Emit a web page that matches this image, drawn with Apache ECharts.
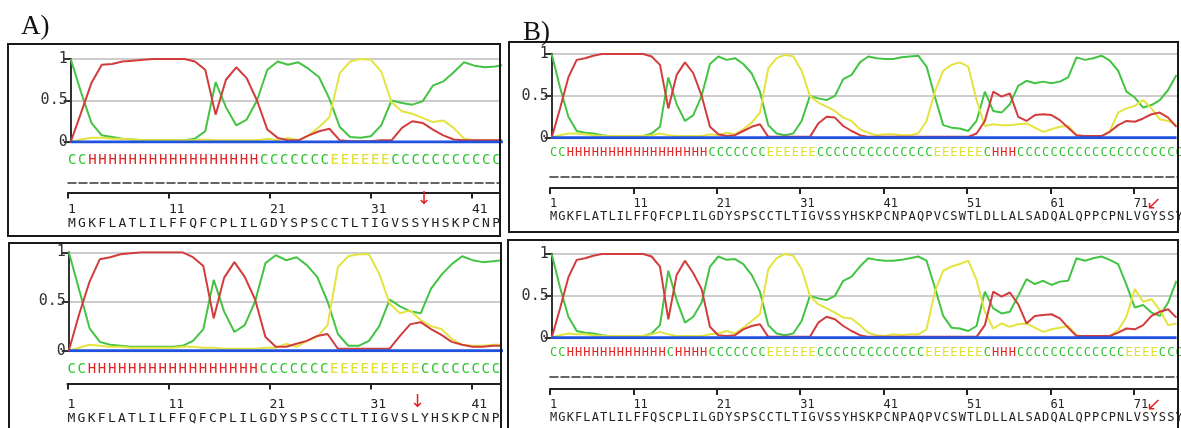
<!DOCTYPE html>
<html>
<head>
<meta charset="utf-8">
<script src="https://cdn.jsdelivr.net/npm/echarts@6/dist/echarts.min.js"></script>
<style>
  html, body { margin: 0; padding: 0; background: #fff; }
  #chart { width: 1181px; height: 428px; }
</style>
</head>
<body>
<div id="chart"></div>
<script>
// secondary structure prediction, wild type (top) vs mutant (bottom)
const seqA1 = 'MGKFLATLILFFQFCPLILGDYSPSCCTLTIGVSSYHSKPCNP'
const seqA2 = 'MGKFLATLILFFQFCPLILGDYSPSCCTLTIGVSLYHSKPCNP'
const seqB1 = 'MGKFLATLILFFQFCPLILGDYSPSCCTLTIGVSSYHSKPCNPAQPVCSWTLDLLALSADQALQPPCPNLVGYSSYHSK'
const seqB2 = 'MGKFLATLILFFQSCPLILGDYSPSCCTLTIGVSSYHSKPCNPAQPVCSWTLDLLALSADQALQPPCPNLVSYSSYHSK'

const ssA1 = 'CCHHHHHHHHHHHHHHHHHCCCCCCCEEEEEECCCCCCCCCCC'
const ssA2 = 'CCHHHHHHHHHHHHHHHHHCCCCCCCEEEEEEEEECCCCCCCC'
const ssB1 = 'CCHHHHHHHHHHHHHHHHHCCCCCCCEEEEEECCCCCCCCCCCCCCEEEEEECHHHCCCCCCCCCCCCCCCCCCCC'
const ssB2 = 'CCHHHHHHHHHHHHCHHHHCCCCCCCEEEEEECCCCCCCCCCCCCEEEEEEECHHHCCCCCCCCCCCCCEEEECCC'

const mutA = 35
const mutB = 72
const tickStep = 10

// probabilities per residue
const coilA1 = [1.0, 0.6, 0.23, 0.08, 0.06, 0.04, 0.03, 0.02, 0.02, 0.02, 0.02, 0.02, 0.04, 0.13, 0.72, 0.42, 0.2, 0.27, 0.5, 0.87, 0.97, 0.93, 0.96, 0.88, 0.78, 0.52, 0.18, 0.06, 0.05, 0.07, 0.2, 0.5, 0.47, 0.45, 0.49, 0.68, 0.73, 0.84, 0.96, 0.92, 0.9, 0.91, 0.93]
const helixA1 = [0, 0.35, 0.71, 0.93, 0.94, 0.97, 0.98, 0.99, 1, 1, 1, 1, 0.97, 0.87, 0.33, 0.75, 0.9, 0.77, 0.5, 0.15, 0.05, 0.02, 0.02, 0.08, 0.13, 0.16, 0.02, 0.01, 0.01, 0.01, 0.02, 0.02, 0.17, 0.25, 0.23, 0.15, 0.08, 0.03, 0.02, 0.02, 0.02, 0.02, 0.02]
const strandA1 = [0, 0.03, 0.05, 0.05, 0.04, 0.04, 0.03, 0.02, 0.02, 0.02, 0.02, 0.02, 0.02, 0.03, 0.02, 0.02, 0.02, 0.02, 0.02, 0.04, 0.02, 0.05, 0.02, 0.08, 0.18, 0.3, 0.83, 0.97, 1, 0.99, 0.85, 0.48, 0.37, 0.34, 0.29, 0.24, 0.26, 0.17, 0.04, 0.02, 0.02, 0.02, 0.02]

const coilA2 = [1, 0.62, 0.23, 0.09, 0.06, 0.05, 0.04, 0.04, 0.04, 0.04, 0.04, 0.05, 0.1, 0.22, 0.72, 0.4, 0.19, 0.26, 0.5, 0.89, 0.97, 0.92, 0.95, 0.87, 0.75, 0.5, 0.17, 0.05, 0.05, 0.1, 0.25, 0.52, 0.45, 0.4, 0.38, 0.63, 0.77, 0.88, 0.96, 0.92, 0.9, 0.91, 0.92]
const helixA2 = [0, 0.37, 0.7, 0.93, 0.95, 0.98, 0.99, 1, 1, 1, 1, 1, 0.95, 0.86, 0.33, 0.74, 0.9, 0.75, 0.52, 0.14, 0.04, 0.04, 0.07, 0.1, 0.15, 0.17, 0.02, 0.02, 0.02, 0.02, 0.02, 0.02, 0.15, 0.27, 0.29, 0.22, 0.16, 0.09, 0.06, 0.04, 0.04, 0.05, 0.05]
const strandA2 = [0, 0.03, 0.06, 0.05, 0.04, 0.04, 0.03, 0.03, 0.03, 0.03, 0.03, 0.04, 0.04, 0.03, 0.03, 0.02, 0.02, 0.02, 0.02, 0.03, 0.03, 0.07, 0.04, 0.1, 0.14, 0.26, 0.85, 0.96, 0.98, 0.98, 0.78, 0.48, 0.38, 0.41, 0.31, 0.25, 0.22, 0.12, 0.06, 0.05, 0.05, 0.06, 0.06]

const coilB1 = [1, 0.6, 0.25, 0.08, 0.06, 0.05, 0.03, 0.02, 0.02, 0.02, 0.02, 0.02, 0.05, 0.13, 0.72, 0.4, 0.2, 0.27, 0.5, 0.88, 0.97, 0.93, 0.95, 0.88, 0.77, 0.55, 0.15, 0.05, 0.03, 0.05, 0.2, 0.5, 0.47, 0.45, 0.5, 0.7,
  0.75, 0.9, 0.97, 0.95, 0.94, 0.94, 0.96, 0.97, 0.98, 0.85, 0.49, 0.15, 0.12, 0.11, 0.08, 0.2, 0.55, 0.32, 0.3, 0.4, 0.62, 0.68, 0.65, 0.67, 0.65, 0.67, 0.72, 0.96, 0.93, 0.95, 0.98, 0.92, 0.8, 0.55, 0.48, 0.36, 0.39, 0.45, 0.57, 0.75]
const helixB1 = [0, 0.35, 0.72, 0.93, 0.95, 0.98, 1, 1, 1, 1, 1, 1, 0.97, 0.87, 0.35, 0.75, 0.9, 0.77, 0.5, 0.13, 0.04, 0.02, 0.03, 0.08, 0.13, 0.16, 0.01, 0.01, 0.01, 0.01, 0.01, 0.01, 0.17, 0.25, 0.24, 0.14,
  0.08, 0.03, 0.01, 0.01, 0.01, 0.01, 0.01, 0.01, 0.01, 0.01, 0.01, 0.01, 0.01, 0.01, 0.01, 0.05, 0.2, 0.55, 0.49, 0.53, 0.25, 0.2, 0.27, 0.28, 0.27, 0.21, 0.12, 0.03, 0.02, 0.02, 0.02, 0.07, 0.15, 0.2, 0.19, 0.23, 0.28, 0.3, 0.24, 0.13]
const strandB1 = [0, 0.03, 0.05, 0.05, 0.04, 0.03, 0.02, 0.02, 0.02, 0.02, 0.02, 0.02, 0.03, 0.05, 0.03, 0.02, 0.02, 0.02, 0.02, 0.04, 0.03, 0.06, 0.04, 0.1, 0.18, 0.3, 0.83, 0.95, 0.99, 0.97, 0.8, 0.5, 0.42, 0.37, 0.32, 0.24,
  0.2, 0.1, 0.06, 0.03, 0.04, 0.04, 0.03, 0.03, 0.05, 0.2, 0.55, 0.8, 0.87, 0.9, 0.85, 0.45, 0.14, 0.16, 0.15, 0.15, 0.16, 0.17, 0.12, 0.07, 0.1, 0.13, 0.14, 0.03, 0.01, 0.01, 0.02, 0.08, 0.3, 0.35, 0.38, 0.45, 0.35, 0.22, 0.2, 0.15]

const coilB2 = [1, 0.6, 0.25, 0.08, 0.06, 0.05, 0.03, 0.02, 0.02, 0.02, 0.02, 0.02, 0.05, 0.15, 0.8, 0.45, 0.18, 0.25, 0.42, 0.85, 0.97, 0.93, 0.94, 0.88, 0.75, 0.55, 0.15, 0.05, 0.03, 0.05, 0.2, 0.5, 0.47, 0.45, 0.5, 0.68,
  0.73, 0.85, 0.95, 0.93, 0.92, 0.92, 0.93, 0.95, 0.97, 0.92, 0.6, 0.26, 0.12, 0.11, 0.08, 0.14, 0.55, 0.35, 0.29, 0.31, 0.5, 0.7, 0.64, 0.68, 0.63, 0.67, 0.68, 0.95, 0.92, 0.95, 0.97, 0.93, 0.88, 0.63, 0.36, 0.39, 0.3, 0.26, 0.42, 0.68]
const helixB2 = [0, 0.35, 0.72, 0.93, 0.95, 0.98, 1, 1, 1, 1, 1, 1, 0.97, 0.85, 0.22, 0.75, 0.92, 0.77, 0.58, 0.13, 0.03, 0.02, 0.03, 0.1, 0.14, 0.16, 0.01, 0.01, 0.01, 0.01, 0.01, 0.01, 0.18, 0.25, 0.22, 0.14,
  0.08, 0.03, 0.01, 0.01, 0.01, 0.01, 0.01, 0.01, 0.01, 0.01, 0.01, 0.01, 0.01, 0.01, 0.01, 0.01, 0.15, 0.55, 0.49, 0.54, 0.4, 0.17, 0.26, 0.27, 0.28, 0.23, 0.12, 0.02, 0.02, 0.02, 0.02, 0.02, 0.06, 0.11, 0.1, 0.15, 0.26, 0.31, 0.34, 0.24]
const strandB2 = [0, 0.03, 0.05, 0.04, 0.04, 0.03, 0.02, 0.02, 0.02, 0.02, 0.02, 0.02, 0.04, 0.07, 0.04, 0.02, 0.02, 0.02, 0.02, 0.04, 0.05, 0.08, 0.05, 0.12, 0.2, 0.28, 0.82, 0.95, 1, 0.98, 0.82, 0.5, 0.4, 0.35, 0.3, 0.24,
  0.23, 0.15, 0.06, 0.03, 0.02, 0.04, 0.03, 0.04, 0.04, 0.1, 0.55, 0.8, 0.85, 0.88, 0.92, 0.69, 0.31, 0.11, 0.17, 0.13, 0.16, 0.17, 0.12, 0.07, 0.1, 0.12, 0.14, 0.03, 0.01, 0.01, 0.02, 0.02, 0.09, 0.25, 0.58, 0.43, 0.46, 0.33, 0.15, 0.17]

// beta turn: flat at zero everywhere
const turn = [0, 0, 0, 0, 0, 0, 0, 0, 0, 0, 0, 0, 0, 0, 0, 0, 0, 0, 0, 0, 0, 0, 0, 0, 0, 0, 0, 0, 0, 0, 0, 0, 0, 0, 0, 0, 0, 0, 0, 0,
  0, 0, 0, 0, 0, 0, 0, 0, 0, 0, 0, 0, 0, 0, 0, 0, 0, 0, 0, 0, 0, 0, 0, 0, 0, 0, 0, 0, 0, 0, 0, 0, 0, 0, 0, 0]

const ssColor = { C: '#2ec42e', H: '#e02626', E: '#e0e030' }
const lineColor = { coil: '#43c443', helix: '#d23c3c', strand: '#e4e440', turn: '#1f52e0' }
const mono = 'DejaVu Sans Mono'

const panels = [
  {
    plot: { x0: 70.7, x1: 500, y1: 59, y0: 142, step: 10.35 },
    text: { x0: 68, x1: 500, step: 10.1, ssY: 160, dashY: 181.5, rulerY: 191.5, numY: 210, seqY: 223.5, arrowY: 199, ssFont: 14, seqFont: 13 },
    coil: coilA1, helix: helixA1, strand: strandA1, ss: ssA1, seq: seqA1, mut: mutA, arrow: '↓', arrowDx: 5
  },
  {
    plot: { x0: 68.8, x1: 500, y1: 252.3, y0: 350.7, step: 10.35 },
    text: { x0: 67.5, x1: 500, step: 10.1, ssY: 369, dashY: null, rulerY: 382.5, numY: 405, seqY: 419, arrowY: 402, ssFont: 14, seqFont: 13 },
    coil: coilA2, helix: helixA2, strand: strandA2, ss: ssA2, seq: seqA2, mut: mutA, arrow: '↓', arrowDx: -1
  },
  {
    plot: { x0: 551.7, x1: 1178, y1: 54, y0: 137.7, step: 8.33 },
    text: { x0: 550, x1: 1178, step: 8.34, ssY: 153, dashY: 176, rulerY: 187, numY: 204, seqY: 217, arrowY: 204, ssFont: 12, seqFont: 12 },
    coil: coilB1, helix: helixB1, strand: strandB1, ss: ssB1, seq: seqB1, mut: mutB, arrow: '↙', arrowDx: 4
  },
  {
    plot: { x0: 551.7, x1: 1178, y1: 254, y0: 337.7, step: 8.33 },
    text: { x0: 550, x1: 1178, step: 8.34, ssY: 353, dashY: 376, rulerY: 388, numY: 405, seqY: 418, arrowY: 405, ssFont: 12, seqFont: 12 },
    coil: coilB2, helix: helixB2, strand: strandB2, ss: ssB2, seq: seqB2, mut: mutB, arrow: '↙', arrowDx: 4
  }
]

const grids = []
const xAxes = []
const yAxes = []
const series = []

function addGrid(left, top, width, height) {
  grids.push({ left: left, top: top, width: width, height: height, containLabel: false, outerBoundsMode: 'none' })
  return grids.length - 1
}

function positions(from, to, step) {
  const out = []
  for (let r = from; r <= to; r += step) out.push(r)
  return out
}

function addPlot(panel) {
  const p = panel.plot
  const g = addGrid(p.x0, p.y1, p.x1 - p.x0, p.y0 - p.y1)
  xAxes.push({ gridIndex: g, type: 'value', min: 1, max: 1 + (p.x1 - p.x0) / p.step, show: false })
  yAxes.push({
    gridIndex: g, type: 'value', min: 0, max: 1, interval: 0.5,
    axisLine: { show: true, lineStyle: { color: '#333', width: 2 } },
    axisTick: { show: true, length: 7, lineStyle: { color: '#333', width: 2 } },
    axisLabel: { fontFamily: mono, fontSize: 15, color: '#333', margin: 3 },
    splitLine: { show: true, lineStyle: { color: '#cdcdcd', width: 2 } }
  })
  const lines = [['coil', panel.coil], ['strand', panel.strand], ['helix', panel.helix], ['turn', turn]]
  lines.forEach(function(item) {
    series.push({
      type: 'line', xAxisIndex: g, yAxisIndex: g, silent: true, symbol: 'none',
      data: item[1].map(function(v, i) { return [i + 1, v] }),
      lineStyle: { color: lineColor[item[0]], width: item[0] === 'turn' ? 3 : 2 },
      z: item[0] === 'turn' ? 5 : 3
    })
  })
}

function addRow(t, y, dx, axis) {
  const g = addGrid(t.x0 + dx, y, t.x1 - t.x0, 1)
  xAxes.push(Object.assign({
    gridIndex: g, type: 'value', position: 'top', min: 1, max: 1 + (t.x1 - t.x0) / t.step,
    axisLine: { show: false }, axisTick: { show: false }, splitLine: { show: false }, axisLabel: { show: false }
  }, axis))
  yAxes.push({ gridIndex: g, type: 'value', show: false })
}

function textLabel(values, size, formatter, color) {
  return {
    show: true, customValues: values, margin: 0, align: 'left', verticalAlign: 'middle',
    fontFamily: mono, fontSize: size, color: color, formatter: formatter,
    showMinLabel: true, showMaxLabel: true, hideOverlap: false
  }
}

function addText(panel) {
  const t = panel.text
  const last = Math.floor(1 + (t.x1 - t.x0) / t.step)
  const ssPos = positions(1, Math.min(last, panel.ss.length), 1)
  const seqPos = positions(1, Math.min(last, panel.seq.length), 1)
  const tickPos = positions(1, last, tickStep)
  const pick = function(str) {
    return function(v) { return Number.isInteger(v) ? (str[v - 1] || '') : '' }
  }

  // predicted states
  addRow(t, t.ssY, 0, {
    interval: 1,
    axisLabel: textLabel(ssPos, t.ssFont, pick(panel.ss), function(v) { return ssColor[panel.ss[v - 1]] || '#2ec42e' })
  })
  if (t.dashY !== null) {
    addRow(t, t.dashY, 0, { axisLine: { show: true, lineStyle: { color: '#333', width: 1.5, type: [8, 3] } } })
  }
  // ruler
  addRow(t, t.rulerY, 0, {
    interval: tickStep,
    axisLine: { show: true, lineStyle: { color: '#222', width: 2 } },
    axisTick: { show: true, inside: true, length: 6, customValues: tickPos, lineStyle: { color: '#222', width: 2 } }
  })
  addRow(t, t.numY, 0, {
    interval: tickStep,
    axisLabel: textLabel(tickPos, t.seqFont, function(v) { return Number.isInteger(v) ? String(v) : '' }, '#222')
  })
  addRow(t, t.seqY, 0, {
    interval: 1,
    axisLabel: textLabel(seqPos, t.seqFont, pick(panel.seq), '#222')
  })
  // mutation site
  addRow(t, t.arrowY, panel.arrowDx, {
    interval: 1,
    axisLabel: Object.assign(textLabel([panel.mut], 18, function() { return panel.arrow }, '#e02020'), { fontFamily: 'DejaVu Sans' })
  })
}

panels.forEach(function(panel) {
  addPlot(panel)
  addText(panel)
})

const box = function(x, y, w, h) {
  return { type: 'rect', z: 100, silent: true, shape: { x: x, y: y, width: w, height: h }, style: { fill: 'none', stroke: '#1a1a1a', lineWidth: 2 } }
}

const chart = echarts.init(document.getElementById('chart'))
chart.setOption({
  backgroundColor: '#fff',
  animation: false,
  grid: grids,
  xAxis: xAxes,
  yAxis: yAxes,
  series: series,
  graphic: [
    box(8, 44, 492, 192),
    box(9, 243, 492, 200),
    box(509, 42, 669, 190),
    box(508, 240, 670, 200),
    { type: 'text', left: 21, top: 13, z: 100, style: { text: 'A)', font: '27px "Liberation Serif"', fill: '#111' } },
    { type: 'text', left: 523, top: 19, z: 100, style: { text: 'B)', font: '27px "Liberation Serif"', fill: '#111' } }
  ]
})
window.addEventListener('resize', function() {
  chart.resize()
})
</script>
</body>
</html>
